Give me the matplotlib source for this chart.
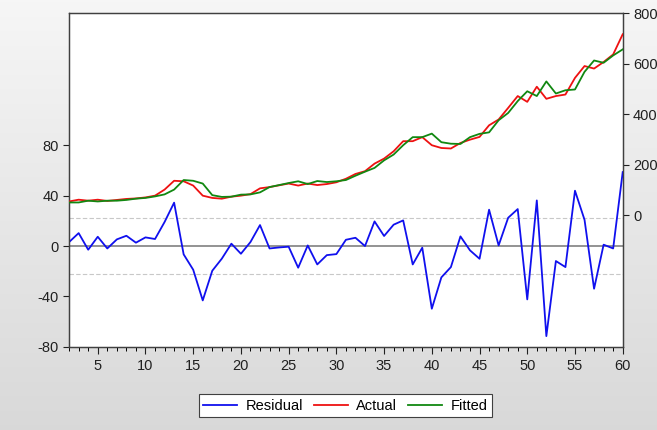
import numpy as np
import matplotlib
matplotlib.use("Agg")
import matplotlib.pyplot as plt
from matplotlib.ticker import MultipleLocator, FixedLocator

plt.rcParams['font.family'] = ['Liberation Sans', 'DejaVu Sans']
plt.rcParams['axes.unicode_minus'] = False

obs = list(range(2, 61))

residual = [3.2, 10.3, -2.9, 7.4, -1.9, 5.3, 8.2, 2.7, 6.9, 5.6,
            19.1, 34.5, -6.6, -18.8, -43.2, -19.6, -10.0, 1.9, -6.1, 3.2,
            16.7, -1.9, -1.1, -0.5, -17.2, 0.5, -14.6, -7.2, -6.4, 5.0,
            6.6, 0.0, 19.6, 8.0, 17.0, 20.4, -14.6, -1.3, -49.8, -24.9,
            -16.7, 7.7, -3.4, -10.1, 28.9, 0.5, 22.5, 29.4, -42.4, 36.3,
            -71.6, -11.9, -16.7, 44.0, 20.9, -33.9, 1.1, -1.9, 58.8]

actual = [54, 61, 57, 61, 56, 60, 64, 66, 70, 77,
          101, 136, 134, 117, 77, 68, 65, 73, 77, 83,
          106, 111, 118, 125, 117, 125, 119, 123, 130, 144,
          163, 174, 204, 224, 253, 293, 293, 309, 277, 266,
          264, 286, 299, 310, 356, 379, 425, 472, 449, 509,
          461, 472, 478, 544, 591, 581, 607, 637, 717]

fitted = [50, 50, 57, 54, 57, 57, 60, 65, 68, 74,
          82, 101, 139, 136, 125, 79, 72, 73, 81, 82,
          90, 111, 119, 127, 134, 123, 135, 131, 134, 139,
          156, 172, 187, 217, 240, 277, 309, 309, 323, 289,
          283, 282, 309, 322, 328, 376, 405, 452, 491, 472,
          530, 482, 495, 498, 568, 613, 604, 633, 657]

se_band = 22.6
left_ticks = [-80, -40, 0, 40, 80]
right_ticks = [0, 200, 400, 600, 800]
x_ticks = [5, 10, 15, 20, 25, 30, 35, 40, 45, 50, 55, 60]

fig = plt.figure(figsize=(6.57, 4.30), dpi=100)

# gradient background
bg = fig.add_axes([0, 0, 1, 1], zorder=-10)
grad = np.linspace(0.965, 0.85, 256).reshape(-1, 1)
bg.imshow(np.dstack([grad, grad, grad]), aspect='auto', extent=[0, 1, 0, 1])
bg.axis('off')

ax = fig.add_axes([0.1052, 0.1937, 0.8426, 0.7753])
ax.set_facecolor('white')
ax2 = ax.twinx()

ax.set_xlim(2, 60)
ax.set_ylim(-80, 185)
ax2.set_ylim(-522, 800)

ax.axhline(0, color='#808080', lw=1.2, zorder=1)
ax.axhline(se_band, color='#c8c8c8', lw=0.8, ls=(0, (4, 2)), zorder=1)
ax.axhline(-se_band, color='#c8c8c8', lw=0.8, ls=(0, (4, 2)), zorder=1)

l1, = ax.plot(obs, residual, color='#1010ee', lw=1.3, label='Residual', zorder=3)
l2, = ax2.plot(obs, actual, color='#ee1111', lw=1.3, label='Actual', zorder=3)
l3, = ax2.plot(obs, fitted, color='#118811', lw=1.3, label='Fitted', zorder=3)

ax.yaxis.set_major_locator(FixedLocator(left_ticks))
ax2.yaxis.set_major_locator(FixedLocator(right_ticks))
ax.xaxis.set_major_locator(FixedLocator(x_ticks))
ax.xaxis.set_minor_locator(MultipleLocator(1))

for a in (ax, ax2):
    for s in a.spines.values():
        s.set_color('#404040')
        s.set_linewidth(0.9)
    a.tick_params(labelsize=10.5, colors='#202020', direction='out', width=0.8)

ax.tick_params(axis='x', which='major', length=5)
ax.tick_params(axis='x', which='minor', length=3, width=0.7)
ax.tick_params(axis='y', length=4)
ax2.tick_params(axis='y', length=4)

leg = fig.legend(handles=[l1, l2, l3], loc='center', bbox_to_anchor=(0.5257, 0.0563),
                 ncol=3, fontsize=10.5, frameon=True, fancybox=False,
                 edgecolor='#404040', facecolor='white', framealpha=1,
                 handlelength=2.3, columnspacing=0.75, borderpad=0.3, handletextpad=0.6,
                 borderaxespad=0)
leg.get_frame().set_linewidth(0.8)

fig.savefig('out.png', dpi=100)
